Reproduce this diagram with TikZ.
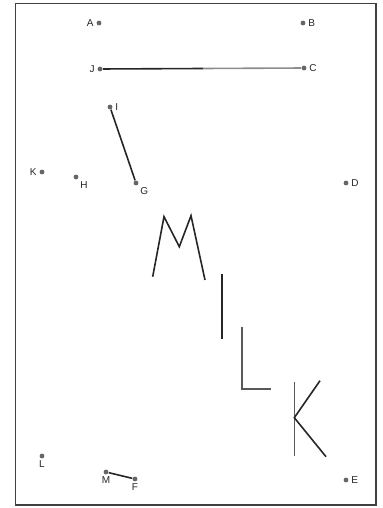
\documentclass[tikz,border=0pt]{standalone}
\usepackage{fontspec}
\setmainfont{Liberation Sans}
\begin{document}
\begin{tikzpicture}[x=0.5pt,y=-0.5pt,
  pt/.style={circle,fill=black!60,inner sep=0pt,minimum size=2.4pt},
  lbl/.style={font=\fontsize{5}{6}\selectfont,text=black!85,inner sep=0.6pt},
  stroke/.style={line width=0.8pt,black!85},
  every label/.style={lbl}]
\useasboundingbox (0,0) rectangle (382,508);
\draw[black!75,line width=0.7pt] (15.5,3.7) rectangle (376,505);
% points
\node[pt,label={[label distance=0.5pt]left:A}] (A) at (99,23) {};
\node[pt,label={[label distance=0.5pt]right:B}] (B) at (303,23) {};
\node[pt,label={[label distance=0.5pt]left:J}] (J) at (100,69) {};
\node[pt,label={[label distance=0.5pt]right:C}] (C) at (304,68) {};
\node[pt,label={[label distance=0.5pt]right:I}] (I) at (110,107) {};
\node[pt,label={[label distance=0.5pt]below right:G}] (G) at (136,183) {};
\node[pt,label={[label distance=0.5pt]left:K}] (K) at (42,172) {};
\node[pt,label={[label distance=0.5pt]below right:H}] (H) at (76,177) {};
\node[pt,label={[label distance=0.5pt]right:D}] (D) at (346,183) {};
\node[pt,label={[label distance=0pt]below:L}] (L) at (42,456) {};
\node[pt,label={[label distance=0pt]below:M}] (Mp) at (106,472) {};
\node[pt,label={[label distance=0pt]below:F}] (F) at (135,479) {};
\node[pt,label={[label distance=0.5pt]right:E}] (E) at (346,480) {};
% connectors
\coordinate (JCm) at (203,68.5);
\draw[stroke] (J) -- (JCm);
\draw[line width=0.8pt,black!45] (JCm) -- (C);
\draw[stroke] (I) -- (G);
\draw[stroke] (Mp) -- (F);
% letters MILK
\coordinate (m1) at (152.7,276.7);
\coordinate (m2) at (164,216.7);
\coordinate (m3) at (179.3,246.7);
\coordinate (m4) at (191,215.7);
\coordinate (m5) at (205,280);
\draw[stroke,line join=miter] (m1) -- (m2) -- (m3) -- (m4) -- (m5);
\coordinate (i1) at (222,274);
\coordinate (i2) at (222,339);
\draw[stroke] (i1) -- (i2);
\coordinate (l1) at (241.7,327.3);
\coordinate (l2) at (241.7,389);
\coordinate (l3) at (271,389);
\draw[line width=0.8pt,black!65] (l1) -- (l2) -- (l3);
\coordinate (k1) at (294.3,381.7);
\coordinate (k2) at (294.3,455.5);
\coordinate (kj) at (294.3,417.7);
\coordinate (k3) at (320,380.7);
\coordinate (k4) at (326,456.7);
\draw[line width=0.8pt,black!65] (k1) -- (k2);
\draw[stroke] (k3) -- (kj) -- (k4);
\end{tikzpicture}
\end{document}
